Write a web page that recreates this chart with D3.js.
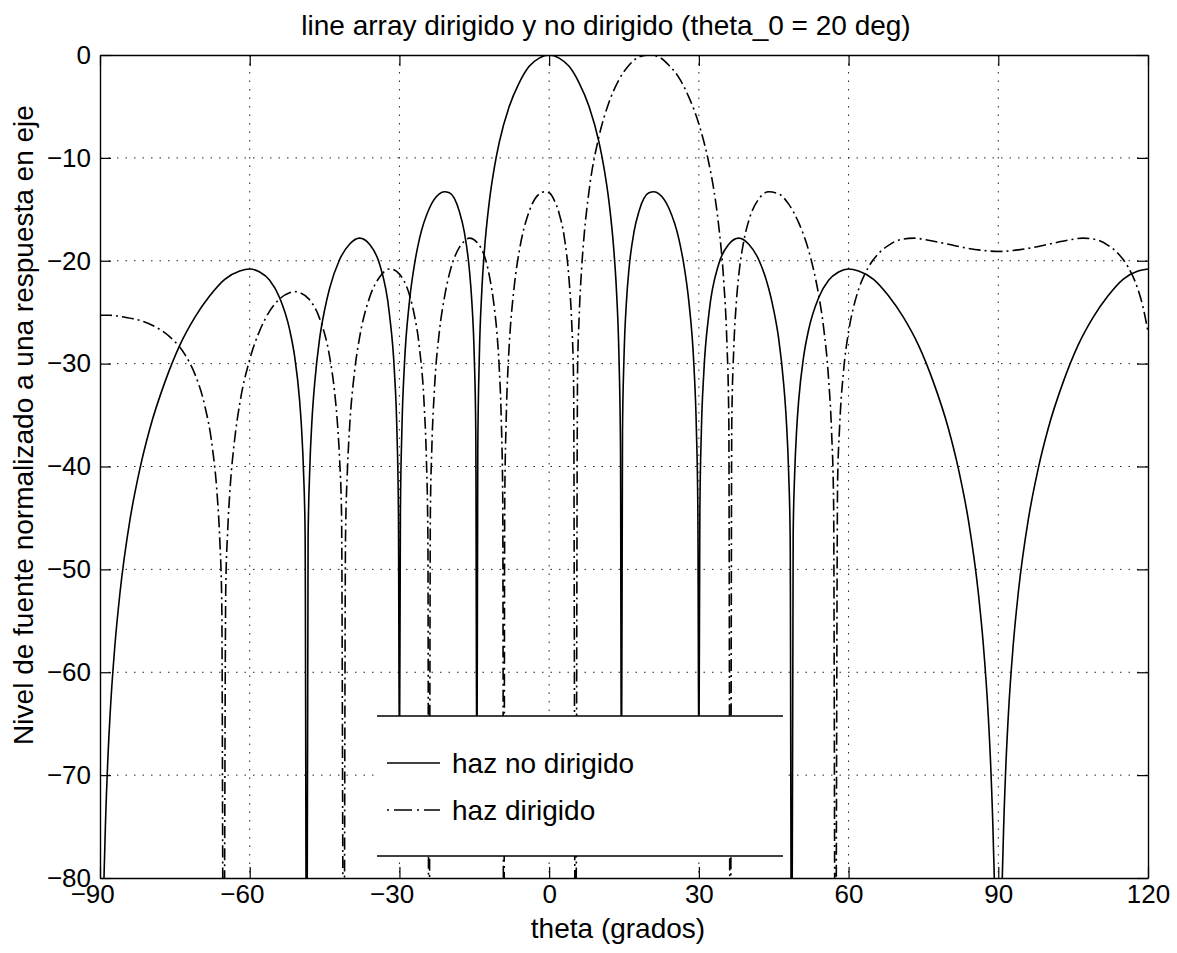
<!DOCTYPE html>
<html>
<head>
<meta charset="utf-8">
<script src="https://cdn.jsdelivr.net/npm/d3@7"></script>
<style>
  body { margin: 0; background: #fff; }
  text { font-family: "Liberation Sans", Arial, sans-serif; fill: #000; }
</style>
</head>
<body>
<svg id="chart" width="1177" height="953"></svg>
<script>
const thetaTicks = [-90, -60, -30, 0, 30, 60, 90, 120]
const levelTicks = [0, -10, -20, -30, -40, -50, -60, -70, -80]
const legendLabels = ['haz no dirigido', 'haz dirigido']

// [theta (grados), nivel (dB)]
const hazNoDirigido = [
  [-90, -120], [-89.5, -88.4], [-89, -76.4], [-88.5, -69.3], [-88, -64.3], [-87, -57.3],
  [-86, -52.3], [-84, -45.2], [-82, -40.2], [-80, -36.3], [-77, -31.8], [-74, -28.2],
  [-71, -25.5], [-68, -23.4], [-65, -21.8], [-62, -21.0], [-60, -20.8], [-58, -21.1],
  [-56, -21.9], [-54, -23.6], [-52, -26.7], [-51, -29.3], [-50, -33.6], [-49.6, -36.4],
  [-49.2, -40.7], [-48.9, -46.5], [-48.59, -100], [-48.3, -46.9], [-48, -40.7], [-47.5, -35.3],
  [-47, -32.0], [-46, -27.6], [-45, -24.8], [-44, -22.7], [-42, -19.9], [-40, -18.4],
  [-38, -17.8], [-36, -18.4], [-34, -20.3], [-32, -25.2], [-31, -30.8], [-30.5, -36.6],
  [-30.2, -44.4], [-30, -70], [-29.8, -44.3], [-29.5, -36.3], [-29, -30.1], [-28, -24.0],
  [-27, -20.4], [-26, -17.9], [-24, -14.9], [-22, -13.5], [-21, -13.3], [-20, -13.4],
  [-18, -15.2], [-17, -17.2], [-16, -20.8], [-15.5, -23.9], [-15, -29.4], [-14.7, -36.6],
  [-14.48, -74], [-14.3, -38.3], [-14, -29.5], [-13.5, -23.0], [-13, -19.2], [-12, -14.3],
  [-11, -11.0], [-10, -8.5], [-8, -5.0], [-6, -2.7], [-4, -1.1], [-2, -0.3],
  [0, 0], [2, -0.3], [4, -1.1], [6, -2.7], [8, -5.0], [10, -8.5],
  [11, -11.0], [12, -14.3], [13, -19.2], [13.5, -23.0], [14, -29.5], [14.3, -38.3],
  [14.48, -74], [14.7, -36.6], [15, -29.4], [15.5, -23.9], [16, -20.8], [17, -17.2],
  [18, -15.2], [20, -13.4], [21, -13.3], [22, -13.5], [24, -14.9], [26, -17.9],
  [27, -20.4], [28, -24.0], [29, -30.1], [29.5, -36.3], [29.8, -44.3], [30, -70],
  [30.2, -44.4], [30.5, -36.6], [31, -30.8], [32, -25.2], [34, -20.3], [36, -18.4],
  [38, -17.8], [40, -18.4], [42, -19.9], [44, -22.7], [45, -24.8], [46, -27.6],
  [47, -32.0], [47.5, -35.3], [48, -40.7], [48.3, -46.9], [48.59, -100], [48.9, -46.5],
  [49.2, -40.7], [49.6, -36.4], [50, -33.6], [51, -29.3], [52, -26.7], [54, -23.6],
  [56, -21.9], [58, -21.1], [60, -20.8], [62, -21.0], [65, -21.8], [68, -23.4],
  [71, -25.5], [74, -28.2], [77, -31.8], [80, -36.3], [82, -40.2], [84, -45.2],
  [86, -52.3], [87, -57.3], [88, -64.3], [88.5, -69.3], [89, -76.4], [89.5, -88.4],
  [90, -120], [90.5, -88.4], [91, -76.4], [91.5, -69.3], [92, -64.3], [93, -57.3],
  [94, -52.3], [96, -45.2], [98, -40.2], [100, -36.3], [103, -31.8], [106, -28.2],
  [109, -25.5], [112, -23.4], [115, -21.8], [118, -21.0], [120, -20.8]
]

const hazDirigido = [
  [-90, -25.3], [-88, -25.3], [-85, -25.5], [-82, -25.8], [-79, -26.4], [-76, -27.4],
  [-73, -29.1], [-71, -31.0], [-69, -34.1], [-67.5, -38.1], [-66.5, -42.9], [-66, -47.1],
  [-65.6, -53.3], [-65.23, -100], [-64.8, -51.9], [-64.4, -46.1], [-64, -42.6], [-63, -37.3],
  [-62, -33.9], [-60, -29.6], [-58, -26.8], [-56, -24.9], [-54, -23.7], [-52, -23.1],
  [-51, -23.0], [-50, -23.1], [-48, -23.8], [-46, -25.6], [-44, -29.3], [-43, -32.7],
  [-42.5, -35.3], [-42, -39.2], [-41.6, -44.6], [-41.15, -100], [-40.8, -46.8], [-40.4, -40.1],
  [-40, -36.3], [-39, -30.8], [-38, -27.5], [-36, -23.6], [-34, -21.6], [-32, -20.8],
  [-31, -20.9], [-30, -21.3], [-28, -23.3], [-27, -25.3], [-26, -28.4], [-25, -34.4],
  [-24.6, -39.2], [-24.3, -46.6], [-24.08, -100], [-23.8, -44.5], [-23.5, -38.1], [-23, -32.6],
  [-22, -26.9], [-21, -23.6], [-20, -21.3], [-18, -18.7], [-17, -18.1], [-16, -17.8],
  [-14, -18.5], [-12, -21.4], [-11, -24.5], [-10.5, -26.8], [-10, -30.4], [-9.6, -35.3],
  [-9.3, -42.9], [-9.09, -100], [-8.9, -43.6], [-8.6, -35.3], [-8.2, -30.0], [-8, -28.2],
  [-7, -22.5], [-6, -19.1], [-4, -15.2], [-2, -13.5], [-1, -13.3], [0, -13.4],
  [1, -14.1], [2, -15.4], [3, -17.6], [4, -21.9], [4.5, -25.8], [4.9, -31.8],
  [5.28, -100], [5.7, -30.5], [6, -25.6], [6.5, -20.8], [7, -17.6], [8, -13.2],
  [10, -7.9], [12, -4.6], [14, -2.4], [16, -1.0], [18, -0.2], [20, 0],
  [22, -0.2], [24, -1.0], [26, -2.2], [28, -4.1], [30, -6.7], [32, -10.5],
  [33, -13.1], [34, -16.7], [35, -22.1], [35.6, -27.7], [36, -35.3], [36.3, -100],
  [36.6, -35.6], [37, -28.5], [37.5, -24.1], [38, -21.4], [39, -18.1], [40, -16.1],
  [42, -14.0], [44, -13.3], [46, -13.5], [48, -14.5], [50, -16.3], [52, -19.0],
  [53, -20.9], [54, -23.3], [55, -26.5], [56, -31.5], [56.6, -36.7], [57, -43.4],
  [57.36, -100], [57.8, -41.6], [58.2, -36.2], [59, -30.7], [60, -26.9], [61, -24.5],
  [62, -22.8], [64, -20.6], [66, -19.3], [68, -18.5], [70, -18.0], [73, -17.8],
  [76, -18.0], [80, -18.4], [84, -18.8], [87, -19.0], [90, -19.1], [93, -19.0],
  [96, -18.8], [100, -18.4], [104, -18.0], [107, -17.8], [110, -18.0], [112, -18.5],
  [114, -19.3], [116, -20.6], [118, -22.8], [119, -24.5], [120, -26.9]
]

const margin = { top: 55, right: 29, bottom: 75, left: 100 }
const fullWidth = 1177
const fullHeight = 953
const width = fullWidth - margin.left - margin.right
const height = fullHeight - margin.top - margin.bottom
const font = '"Liberation Sans", Arial, sans-serif'

function buildScales() {
  const x = d3.scaleLinear().domain([-90, 120]).range([0, width])
  const y = d3.scaleLinear().domain([-80, 0]).range([height, 0])
  return { x, y }
}

function buildGrid(plot, x, y) {
  const grid = plot.append('g').attr('class', 'grid')
    .attr('stroke', '#222').attr('stroke-width', 1).attr('stroke-dasharray', '1.5,7')

  grid.selectAll('line.v')
    .data(thetaTicks.slice(1, -1))
    .enter()
    .append('line')
    .attr('class', 'v')
    .attr('x1', (d) => x(d)).attr('x2', (d) => x(d))
    .attr('y1', 0).attr('y2', height)

  grid.selectAll('line.h')
    .data(levelTicks.slice(1, -1))
    .enter()
    .append('line')
    .attr('class', 'h')
    .attr('y1', (d) => y(d)).attr('y2', (d) => y(d))
    .attr('x1', 0).attr('x2', width)
}

function buildAxes(plot, x, y) {
  const tick = 11
  const styleAxis = (g) => {
    g.selectAll('.domain').attr('stroke', '#000').attr('stroke-width', 1.4)
    g.selectAll('.tick line').attr('stroke', '#000').attr('stroke-width', 1.2)
    g.selectAll('text').style('font-family', font).style('font-size', '26px').attr('fill', '#000')
  }

  const bottom = plot.append('g')
    .attr('transform', `translate(0,${height})`)
    .call(d3.axisBottom(x).tickValues(thetaTicks).tickSizeInner(-tick).tickSizeOuter(0).tickPadding(7))
    .call(styleAxis)

  // minus sign hangs left of the centred digits, as in the original
  bottom.selectAll('.tick text')
    .attr('dx', (d) => (d < 0 ? '-0.3em' : null))

  plot.append('g')
    .call(d3.axisLeft(y).tickValues(levelTicks).tickSizeInner(-tick).tickSizeOuter(0).tickPadding(9))
    .call(styleAxis)

  plot.append('g')
    .call(d3.axisTop(x).tickValues(thetaTicks).tickSizeInner(-tick).tickSizeOuter(0).tickFormat(''))
    .call(styleAxis)

  plot.append('g')
    .attr('transform', `translate(${width},0)`)
    .call(d3.axisRight(y).tickValues(levelTicks).tickSizeInner(-tick).tickSizeOuter(0).tickFormat(''))
    .call(styleAxis)
}

function buildCurves(plot, x, y) {
  plot.append('clipPath').attr('id', 'clip')
    .append('rect').attr('width', width).attr('height', height)

  const line = d3.line()
    .x((d) => x(d[0]))
    .y((d) => y(d[1]))
    .curve(d3.curveMonotoneX)

  const curves = plot.append('g').attr('clip-path', 'url(#clip)')

  curves.append('path')
    .datum(hazNoDirigido)
    .attr('fill', 'none')
    .attr('stroke', '#000')
    .attr('stroke-width', 1.6)
    .attr('d', line)

  curves.append('path')
    .datum(hazDirigido)
    .attr('fill', 'none')
    .attr('stroke', '#000')
    .attr('stroke-width', 1.6)
    .attr('stroke-dasharray', '12,4,2,4')
    .attr('d', line)
}

function buildLegend(svg) {
  const box = { x: 377, y: 716, w: 406, h: 140 }
  const legend = svg.append('g').attr('transform', `translate(${box.x},${box.y})`)

  legend.append('rect')
    .attr('width', box.w).attr('height', box.h)
    .attr('fill', '#fff')

  legend.selectAll('line.edge')
    .data([0, box.h])
    .enter()
    .append('line')
    .attr('class', 'edge')
    .attr('x1', 0).attr('x2', box.w)
    .attr('y1', (d) => d).attr('y2', (d) => d)
    .attr('stroke', '#000').attr('stroke-width', 1.4)

  const rows = legend.selectAll('g.row')
    .data(legendLabels)
    .enter()
    .append('g')
    .attr('class', 'row')
    .attr('transform', (d, i) => `translate(0,${47 + i * 47})`)

  rows.append('line')
    .attr('x1', 10).attr('x2', 63)
    .attr('stroke', '#000').attr('stroke-width', 1.5)
    .attr('stroke-dasharray', (d, i) => (i === 1 ? '2,5,18,5' : null))

  rows.append('text')
    .attr('x', 75)
    .attr('dy', '0.35em')
    .style('font-size', '28px')
    .text((d) => d)
}

function buildTitles(svg) {
  svg.append('text')
    .attr('x', 606)
    .attr('y', 35)
    .attr('text-anchor', 'middle')
    .style('font-size', '28px')
    .text('line array dirigido y no dirigido (theta_0 = 20 deg)')

  svg.append('text')
    .attr('x', 618)
    .attr('y', 938)
    .attr('text-anchor', 'middle')
    .style('font-size', '28px')
    .text('theta (grados)')

  svg.append('text')
    .attr('transform', 'translate(33,425) rotate(-90)')
    .attr('text-anchor', 'middle')
    .style('font-size', '28px')
    .text('Nivel de fuente normalizado a una respuesta en eje')
}

function generateChart() {
  const svg = d3.select('#chart')
  const plot = svg.append('g').attr('transform', `translate(${margin.left},${margin.top})`)
  const { x, y } = buildScales()

  buildGrid(plot, x, y)
  buildCurves(plot, x, y)
  buildAxes(plot, x, y)
  buildLegend(svg)
  buildTitles(svg)
}

generateChart()
</script>
</body>
</html>
